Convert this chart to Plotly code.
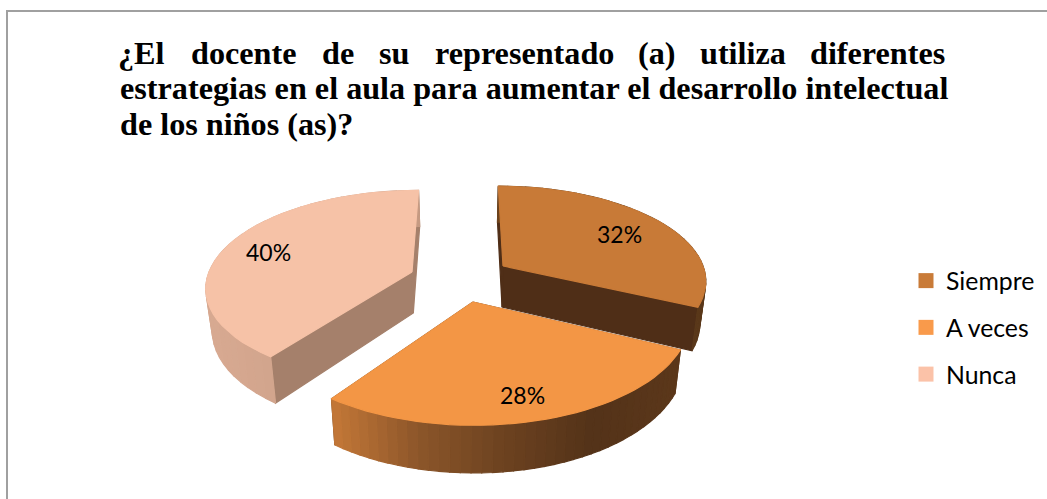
import numpy as np
import plotly.graph_objects as go

# ---- data ----
categories = ["Siempre", "A veces", "Nunca"]
values = [32, 28, 40]
title_line1 = ["¿El", "docente", "de", "su", "representado", "(a)", "utiliza", "diferentes"]
title_line2 = "estrategias en el aula para aumentar el desarrollo intelectual"
title_line3 = "de los niños (as)?"

# ---- style ----
top_colors = ["#c87a37", "#f39645", "#f6c2a7"]
legend_colors = ["#c97b38", "#f99a4b", "#fbc2a8"]
cut_colors = ["#4f2e17", "#6a4020", "#a5806b"]
wall_stops = [
    [(110, 68, 30), (90, 56, 26)],
    [(196, 120, 56), (140, 86, 42), (108, 66, 32), (84, 51, 25), (92, 56, 27)],
    [(216, 170, 146), (198, 154, 130)],
]

# ---- projection of the exploded 3D pie ----
W, H = 1047, 499
APEX = [(503, 266), (473, 302), (412, 272)]
RX = [200, 215, 203]
RY = [91, 106, 93]
K = 0.14
XC = 465
DEPTH = 41


def project(i, frac):
    a = 2 * np.pi * np.asarray(frac)
    u, v = np.sin(a), -np.cos(a)
    d = 1 - K * v
    ax, ay = APEX[i]
    x = ax + RX[i] * u / d + (ax - XC) * (1 / d - 1)
    y = ay + RY[i] * v / d
    return x, y, d


def lower(x, y, d):
    return XC + (x - XC) * 0.975, y + DEPTH / d


def lerp_color(stops, t):
    s = (len(stops) - 1) * t
    j = min(int(s), len(stops) - 2)
    f = s - j
    c = [stops[j][n] + (stops[j + 1][n] - stops[j][n]) * f for n in range(3)]
    return "rgb(%d,%d,%d)" % tuple(c)


fig = go.Figure()


def poly(xs, ys, color):
    fig.add_trace(go.Scatter(x=list(xs), y=list(ys), mode="lines", fill="toself",
                             fillcolor=color, line=dict(color=color, width=1.2),
                             hoverinfo="skip", showlegend=False))


cum = np.concatenate([[0], np.cumsum(values)]) / sum(values)
for i in [2, 0, 1]:
    f0, f1 = cum[i], cum[i + 1]
    fr = np.linspace(f0, f1, 41)
    x, y, d = project(i, fr)
    lx, ly = lower(x, y, d)
    ax, ay = APEX[i]
    alx, aly = lower(ax, ay, 1.0)
    # cut faces
    for k in (0, -1):
        poly([ax, x[k], lx[k], alx, ax], [ay, y[k], ly[k], aly, ay], cut_colors[i])
    # outer wall in strips, shaded across the slice
    xmin, xmax = x.min(), x.max()
    for n in range(len(fr) - 1):
        t = (0.5 * (x[n] + x[n + 1]) - xmin) / (xmax - xmin)
        poly([x[n], x[n + 1], lx[n + 1], lx[n], x[n]],
             [y[n], y[n + 1], ly[n + 1], ly[n], y[n]], lerp_color(wall_stops[i], t))
    # top face
    poly(np.r_[ax, x, ax], np.r_[ay, y, ay], top_colors[i])

# legend entries
for name, col in zip(categories, legend_colors):
    fig.add_trace(go.Scatter(x=[None], y=[None], mode="markers", name=name, legendgroup=name,
                             marker=dict(symbol="square", size=15, color=col)))

annotations = []
word_x = [118, 191, 322, 379, 435, 638, 700, 810]
TITLE_FONT = dict(family="Liberation Serif", size=32.2, color="#000000")
for word, wx in zip(title_line1, word_x):
    annotations.append(dict(x=wx, y=52.5, text="<b>%s</b>" % word, xanchor="left", yanchor="middle",
                            showarrow=False, font=TITLE_FONT, xref="x", yref="y",
                            borderpad=0, borderwidth=0))
for line, ly_ in ((title_line2, 88), (title_line3, 124)):
    annotations.append(dict(x=118, y=ly_, text="<b>%s</b>" % line, xanchor="left", yanchor="middle",
                            showarrow=False, font=TITLE_FONT, xref="x", yref="y"))
label_xy = [(619, 234), (522, 395), (268, 252)]
for v, (lx_, ly_) in zip(values, label_xy):
    annotations.append(dict(x=lx_, y=ly_, text="%d%%" % v, showarrow=False, xref="x", yref="y",
                            font=dict(family="Lato", size=23, color="#000000")))

fig.update_layout(
    width=W, height=H, autosize=False,
    margin=dict(l=0, r=0, t=0, b=0),
    paper_bgcolor="#ffffff", plot_bgcolor="#ffffff",
    xaxis=dict(range=[0, W], visible=False, fixedrange=True),
    yaxis=dict(range=[H, 0], visible=False, fixedrange=True),
    annotations=annotations,
    shapes=[dict(type="line", x0=7, x1=W, y0=11, y1=11, line=dict(color="#a0a0a0", width=2)),
            dict(type="line", x0=7, x1=7, y0=10, y1=H, line=dict(color="#a0a0a0", width=2))],
    legend=dict(x=906 / W, y=1 - 258 / H, xanchor="left", yanchor="top", tracegroupgap=11.5,
                bgcolor="rgba(0,0,0,0)", itemwidth=30,
                font=dict(family="Lato", size=24.8, color="#000000")),
)
fig.write_html("out.html", config={"displayModeBar": False},
               post_script="document.body.style.margin='0';document.documentElement.style.overflow='hidden';")
